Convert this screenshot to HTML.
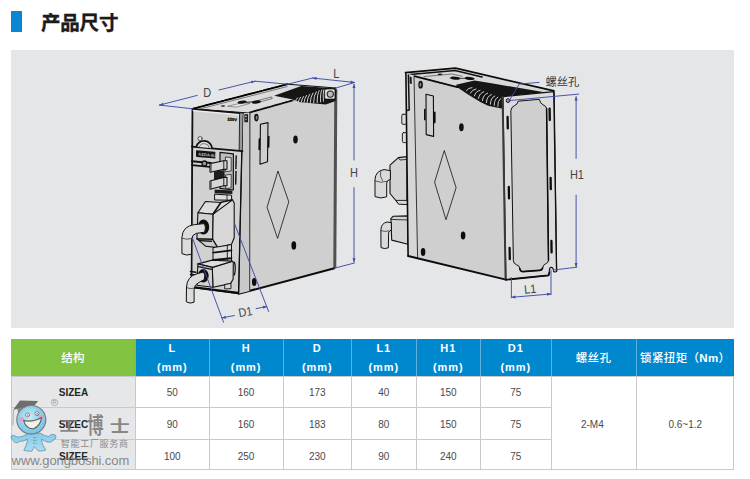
<!DOCTYPE html>
<html lang="zh-CN">
<head>
<meta charset="utf-8">
<title>产品尺寸</title>
<style>
html,body{margin:0;padding:0;background:#fff;}
body{width:750px;height:479px;position:relative;overflow:hidden;font-family:"Liberation Sans","Noto Sans CJK SC",sans-serif;}
.bar{position:absolute;left:11px;top:11px;width:10.5px;height:21.4px;background:#0a86d1;}
h1{position:absolute;left:41px;top:10px;-webkit-text-stroke:.35px #1d1a1a;margin:0;font-size:19.5px;line-height:26px;font-weight:bold;color:#1d1a1a;letter-spacing:-0.2px;white-space:nowrap;}
.panel{position:absolute;left:11px;top:50px;width:723px;height:278px;background:#e5e6e8;}
#art{position:absolute;left:0;top:0;width:750px;height:479px;}
.tbl{position:absolute;left:11px;top:338.6px;width:723px;height:131.6px;}
.c{position:absolute;box-sizing:border-box;display:flex;align-items:center;justify-content:center;text-align:center;white-space:nowrap;}
.h{background:#0088cf;color:#fff;font-weight:bold;font-size:11px;letter-spacing:.9px;line-height:19.2px;top:0;height:37px;padding-top:2.2px;border-left:1px solid #5fb0de;}
.h.g{background:#82c341;border-left:none;}
.h.cj{font-size:11.5px;letter-spacing:.35px;font-weight:500;padding-top:3.2px;}
.d{background:#fff;color:#4a4a4a;font-size:10px;padding-top:2px;border-left:1px solid #c9c9c9;border-top:1px solid #c9c9c9;}
.s{background:#e6e7e8;color:#262626;font-weight:bold;font-size:10px;padding-top:2px;border-top:1px solid #c9c9c9;border-left:1px solid #c9c9c9;}
.frame{position:absolute;left:0;top:37px;width:723px;height:94.6px;box-sizing:border-box;border:1px solid #c9c9c9;border-top:none;pointer-events:none;}
</style>
</head>
<body>
<div class="bar"></div>
<h1>产品尺寸</h1>
<div class="panel"></div>

<div class="tbl">
  <div class="c h g cj" style="left:0px;width:124.0px;">结构</div>
  <div class="c h" style="left:124px;width:73.6px;">L<br>(mm)</div>
  <div class="c h" style="left:197.6px;width:74.0px;">H<br>(mm)</div>
  <div class="c h" style="left:271.6px;width:68.4px;">D<br>(mm)</div>
  <div class="c h" style="left:340px;width:64.6px;">L1<br>(mm)</div>
  <div class="c h" style="left:404.6px;width:64.4px;">H1<br>(mm)</div>
  <div class="c h" style="left:469px;width:70.5px;">D1<br>(mm)</div>
  <div class="c h cj" style="left:539.5px;width:85.1px;">螺丝孔</div>
  <div class="c h cj" style="left:624.6px;width:98.4px;">锁紧扭矩（<b>Nm</b>）</div>
  <div class="c s" style="left:0px;top:37px;width:124.0px;height:31.4px;">SIZEA</div>
  <div class="c d" style="left:124px;top:37px;width:73.6px;height:31.4px;">50</div>
  <div class="c d" style="left:197.6px;top:37px;width:74.0px;height:31.4px;">160</div>
  <div class="c d" style="left:271.6px;top:37px;width:68.4px;height:31.4px;">173</div>
  <div class="c d" style="left:340px;top:37px;width:64.6px;height:31.4px;">40</div>
  <div class="c d" style="left:404.6px;top:37px;width:64.4px;height:31.4px;">150</div>
  <div class="c d" style="left:469px;top:37px;width:70.5px;height:31.4px;">75</div>
  <div class="c s" style="left:0px;top:68.4px;width:124.0px;height:32.0px;">SIZEC</div>
  <div class="c d" style="left:124px;top:68.4px;width:73.6px;height:32.0px;">90</div>
  <div class="c d" style="left:197.6px;top:68.4px;width:74.0px;height:32.0px;">160</div>
  <div class="c d" style="left:271.6px;top:68.4px;width:68.4px;height:32.0px;">183</div>
  <div class="c d" style="left:340px;top:68.4px;width:64.6px;height:32.0px;">80</div>
  <div class="c d" style="left:404.6px;top:68.4px;width:64.4px;height:32.0px;">150</div>
  <div class="c d" style="left:469px;top:68.4px;width:70.5px;height:32.0px;">75</div>
  <div class="c s" style="left:0px;top:100.4px;width:124.0px;height:31.2px;">SIZEE</div>
  <div class="c d" style="left:124px;top:100.4px;width:73.6px;height:31.2px;">100</div>
  <div class="c d" style="left:197.6px;top:100.4px;width:74.0px;height:31.2px;">250</div>
  <div class="c d" style="left:271.6px;top:100.4px;width:68.4px;height:31.2px;">230</div>
  <div class="c d" style="left:340px;top:100.4px;width:64.6px;height:31.2px;">90</div>
  <div class="c d" style="left:404.6px;top:100.4px;width:64.4px;height:31.2px;">240</div>
  <div class="c d" style="left:469px;top:100.4px;width:70.5px;height:31.2px;">75</div>
  <div class="c d" style="left:539.5px;top:37px;width:85.1px;height:94.6px;padding-right:2.4px;">2-M4</div>
  <div class="c d" style="left:624.6px;top:37px;width:98.4px;height:94.6px;">0.6~1.2</div>
  <div class="frame"></div>
</div>

<svg id="art" viewBox="0 0 750 479" width="750" height="479">
<!--ART-->
<g id="dev1" stroke-linejoin="round" stroke-linecap="round">
  <!-- top face -->
  <polygon points="192.6,108.8 249,113 336,88 287.6,84.2" fill="#dcdcdc" stroke="#111" stroke-width="1"/>
  <polygon points="228,106.2 242,102.8 250,103.4 237,107" fill="#e6e6e6" stroke="#444" stroke-width=".5"/><polygon points="255,101.4 271.6,96.9 272.2,98.5 256,103" fill="#f2f2f2" stroke="#222" stroke-width=".6"/>
  <path d="M192.6,108.8 L287.6,84.2" stroke="#000" stroke-width="1.8" stroke-dasharray="1.6,.5" fill="none"/>
  <path d="M199,109.2 L287,86.6" stroke="#333" stroke-width=".6" fill="none"/>
  <ellipse cx="242" cy="102.2" rx="4.5" ry="1.5" fill="#111" transform="rotate(-8 242 102.2)"/>
  <ellipse cx="256.4" cy="102" rx="4.5" ry="1.5" fill="#111" transform="rotate(-8 256.4 102)"/><path d="M242,102.4 L256,101.8" stroke="#111" stroke-width=".9" fill="none"/>
  <ellipse cx="223" cy="106" rx="2.2" ry=".8" fill="#222"/>
  <!-- side face -->
  <polygon points="249.4,113 336,88.6 334.6,268.2 249.6,291" fill="#cfcfcf"/>
  <path d="M250,112.4 L292,100.6" stroke="#111" stroke-width="1.8" stroke-dasharray="1.2,.5" fill="none"/>
  <path d="M335.8,89.4 L334.8,267.8" stroke="#505050" stroke-width="3" fill="none" stroke-linecap="butt"/>
  <path d="M238.6,293.8 L334.4,268.2" stroke="#0c0c0c" stroke-width="2" fill="none"/>
  <path d="M249.8,113 L249.6,290.6" stroke="#333" stroke-width=".9" fill="none"/>
  <!-- fins -->
  <polygon points="274.1,95.7 301.3,86.1 336.5,88.6 335.6,101.1 325.8,104.5 300.2,102.3 291.7,99.2" fill="#161616"/>
  <g stroke="#cfcfcf" stroke-width="1" fill="none">
    <path d="M295.6,101.2 Q296.2,99 297.6,97.8"/>
    <path d="M298.4,101.8 Q299,99 300.6,97.2"/>
    <path d="M301.2,102.2 Q301.8,98.6 303.6,96.4"/>
    <path d="M304,102.4 Q304.6,98 306.6,95.4"/>
    <path d="M307,102.6 Q307.6,97.2 309.8,94.2"/>
    <path d="M310.2,102.8 Q310.6,96.4 313,93"/>
    <path d="M313.6,102.8 Q313.8,95.4 316.2,91.8"/>
    <path d="M317.2,102.6 Q317,94.4 319.2,90.6"/>
    <path d="M320.6,102 Q320,93.6 321.8,90"/>
    <path d="M323.4,101.2 Q322.6,94 323.8,89.8"/>
  </g>
  <rect x="324.7" y="89" width="10.2" height="10" rx="1.6" fill="#e2e2e2" stroke="#111" stroke-width=".6"/>
  <circle cx="330.3" cy="94.1" r="3.1" fill="#bdbdbd" stroke="#222" stroke-width="1.1"/>
  <!-- bezel side strip -->
  <polygon points="242.7,113.1 249.4,113 249.5,291 238.6,293.8" fill="#c9c9c9"/>
  <path d="M249.8,113 L249.6,290.6" stroke="#444" stroke-width=".9" fill="none"/>
  <!-- side features -->
  <ellipse cx="256.4" cy="117.6" rx="2.2" ry="3.8" fill="#111"/>
  <ellipse cx="256.6" cy="117.8" rx=".9" ry="2" fill="#8a8a8a"/>
  <polygon points="260.4,124.3 268,122.6 267.5,161.7 260,164.2" fill="#cfcfcf" stroke="#0c0c0c" stroke-width="1.1"/>
  <path d="M259.4,139 L259.2,149.5 M268.8,136.5 L268.6,147" stroke="#0c0c0c" stroke-width="1.6" fill="none"/>
  <ellipse cx="295.5" cy="139.4" rx="2.3" ry="4" fill="#111"/>
  <polygon points="278.1,171.4 288.8,201.8 277.6,238.4 267.2,207.7" fill="none" stroke="#111" stroke-width=".8"/>
  <ellipse cx="293.8" cy="245.4" rx="2.4" ry="4.2" fill="#0c0c0c"/>
  <ellipse cx="254.2" cy="281.9" rx="2.3" ry="4" fill="#0c0c0c"/>
  <!-- front face -->
  <polygon points="192.6,108.8 242.7,113.1 238.6,293.8 191.6,287.6" fill="#d1d1d1" stroke="#111" stroke-width="1"/>
  <path d="M192.6,108.8 L191.6,287.6" stroke="#111" stroke-width="1.5" fill="none"/>
  <path d="M242.7,113.1 L238.6,293.8" stroke="#111" stroke-width="1.3" fill="none"/>
  <path d="M193.4,110.6 L242,114.9" stroke="#ececec" stroke-width="1.5" fill="none"/><path d="M192.8,109.2 L243,113.5" stroke="#111" stroke-width="1.3" fill="none"/>
  <!-- bezel inner line -->
  <polygon points="239.6,113.4 242.7,113.3 241.9,150.8 239.2,150.4" fill="#9a9a9a"/><path d="M239.6,113.4 L239.2,150.2" stroke="#1a1a1a" stroke-width=".9" fill="none"/>
  <text x="227.6" y="120.4" font-family="'Liberation Sans',sans-serif" font-size="4" font-weight="bold" fill="#000" stroke="#000" stroke-width=".25" transform="skewY(5)" style="transform-origin:227.6px 120.4px">220V</text>
  <rect x="244.4" y="114.2" width="3.6" height="8" fill="#1c1c1c"/>
  <rect x="245.2" y="115.6" width="1.6" height="1.6" fill="#bbb"/><rect x="245.2" y="118.8" width="1.6" height="1.4" fill="#999"/>
  <!-- cover bottom -->
  <path d="M191.8,146.6 L242.4,151.2" stroke="#111" stroke-width="1.8" fill="none"/>
  <circle cx="200.1" cy="138.6" r="2.1" fill="#e4e4e4" stroke="#222" stroke-width=".7"/>
  <path d="M196.4,146.8 A7.9,7.6 0 0 1 212,148.2" fill="#dedede" stroke="#111" stroke-width="1.8"/>
  <path d="M199.2,146.9 A5.2,4.8 0 0 1 209.3,147.9" fill="none" stroke="#333" stroke-width=".6"/>
  <!-- display -->
  <path d="M196.8,150.2 L214.6,151.8 Q215.4,152 215.4,152.8 L215.4,158.6 L196.8,157 Q196,156.8 196,156 L196,151 Q196,150.2 196.8,150.2 Z" fill="#151515"/>
  <text x="198.2" y="155.6" font-family="'Liberation Sans',sans-serif" font-size="4" font-weight="bold" fill="#c4c4c4" stroke="none" letter-spacing=".1" transform="skewY(5)" style="transform-origin:198.2px 155.6px">ASDA-B3</text>
  <path d="M191.8,161.2 L211,163" stroke="#111" stroke-width="1.9" fill="none"/>
  <path d="M191.8,165.2 L210,166.9" stroke="#111" stroke-width="1.7" fill="none"/>
  <circle cx="204.4" cy="163.4" r="2.4" fill="#9a9a9a" stroke="#161616" stroke-width="1.3"/>
  <!-- connector block -->
  <polygon points="220,152.4 233.4,153.9 233.3,190 220,188.4" fill="#bdbdbd" stroke="#111" stroke-width="1.2"/>
  <polygon points="225.8,157 231.2,157.5 231.2,171 225.8,171.6" fill="#dcdcdc" stroke="#222" stroke-width=".8"/>
  <polygon points="225.8,175 231.2,174.4 231.2,188 225.8,188.4" fill="#dcdcdc" stroke="#222" stroke-width=".8"/>
  <polygon points="214,171.6 224.6,170.2 224.6,177.4 214,180.6" fill="#1e1e1e"/>
  <polygon points="210,163.6 223.8,160.8 227,160.8 227,169.2 223.8,169.4 210,172.2" fill="#d6d6d6" stroke="#111" stroke-width="1.1"/>
  <path d="M223.8,160.8 L223.8,169.4" stroke="#111" stroke-width=".9" fill="none"/>
  <path d="M211,164 L211,172" stroke="#555" stroke-width="1.4" fill="none"/>
  <polygon points="210,181 223.8,177.4 227,177.4 227,185.6 223.8,185.8 210,189.2" fill="#d6d6d6" stroke="#111" stroke-width="1.1"/>
  <path d="M223.8,177.4 L223.8,185.8" stroke="#111" stroke-width=".9" fill="none"/>
  <path d="M211,181.4 L211,189" stroke="#555" stroke-width="1.4" fill="none"/>
  <!-- tiny side text -->
  <path d="M236.2,156 L235.9,168.5 M236,171.5 L235.7,184" stroke="#111" stroke-width="1.5" stroke-dasharray=".9,.8" fill="none"/>
  <!-- neck -->
  <polygon points="214.6,189.4 232.4,190.6 232.4,194 214.6,193.2" fill="#1c1c1c"/>
  <polygon points="215,194.2 231.6,195.2 231.6,200.2 215,200" fill="#dedede" stroke="#111" stroke-width="1"/>
  <path d="M227,195 L227,200" stroke="#111" stroke-width=".8" fill="none"/>
  <!-- hex plug: side face -->
  <polygon points="220.9,202.4 232.6,199.9 234.2,203 234.2,237.8 231.5,244.2 217.7,247.6 212.6,239.4 212.9,214.3" fill="#d8d8d8" stroke="#111" stroke-width="1.1"/>
  <!-- top chamfer -->
  <polygon points="205.4,201.5 220.9,202.5 232.6,199.9 212.9,214.3 197.9,212.7" fill="#dddddd" stroke="#111" stroke-width="1.1"/>
  <path d="M220.9,202.5 L212.9,214.3" stroke="#111" stroke-width="1.6" fill="none"/>
  <!-- front face -->
  <polygon points="197.9,212.7 212.9,214.3 212.6,239.4 196.9,238.9" fill="#d2d2d2" stroke="#111" stroke-width="1.1"/>
  <!-- bottom chamfer -->
  <polygon points="196.9,238.9 212.6,239.4 217.7,247.6 205.9,246.3" fill="#cdcdcd" stroke="#111" stroke-width="1.1"/>
  <path d="M199.6,240.6 L211.4,241.2" stroke="#111" stroke-width="1.4" fill="none"/>
  <!-- cable 1 -->
  <ellipse cx="203.5" cy="227" rx="5.7" ry="7.4" fill="#0e0e0e"/>
  <path d="M204.6,223.6 L194.5,224.6 Q182.6,226 181.9,237.4 L181.9,253.6 Q186.6,256.2 191.5,254.2 L191.6,239.4 Q192,234.6 196.2,233.4 L204.6,232.2 Q206.4,228 204.6,223.6 Z" fill="#dcdcdc" stroke="#111" stroke-width="1"/>
  <path d="M182.1,238.2 Q186.8,240.2 191.5,238.6" stroke="#222" stroke-width=".7" fill="none"/>
  <!-- link between plugs -->
  <polygon points="213.4,247.6 231.5,244.6 231.5,261.4 213.4,260.6" fill="#dadada" stroke="#111" stroke-width="1"/>
  <path d="M213.4,252.6 L231.4,250.4" stroke="#111" stroke-width="1.9" fill="none"/>
  <path d="M213.4,260 L231.4,258.2" stroke="#111" stroke-width="1.9" fill="none"/>
  <path d="M227.3,245.4 L227.3,260" stroke="#111" stroke-width=".9" fill="none"/>
  <!-- lower plug -->
  <polygon points="212.3,267.4 232.6,261.2 233.3,263 233.1,279.3 230.5,283.6 212.9,287.3" fill="#d8d8d8" stroke="#111" stroke-width="1.1"/>
  <polygon points="197.9,263.9 212.3,260.1 232.6,261.2 212.3,267.4" fill="#dedede" stroke="#111" stroke-width="1.1"/>
  <polygon points="197.9,263.9 212.3,267.4 212.9,287.3 196.9,285.2" fill="#d2d2d2" stroke="#111" stroke-width="1.1"/>
  <path d="M198.4,266.6 L211.6,269.4" stroke="#111" stroke-width="1.2" fill="none"/>
  <path d="M234.4,262 q1.8,6 0,13" stroke="#111" stroke-width="1.2" fill="none"/>
  <polygon points="225.1,284.4 231,283.4 231,288.6 225.1,289" fill="#d6d6d6" stroke="#111" stroke-width=".9"/>
  <!-- bottom ledge -->
  <path d="M194.2,287.3 L237.9,292.9" stroke="#0c0c0c" stroke-width="2.1" fill="none"/>
  <path d="M190.4,271.6 L196,272.2 M190.4,274.4 L196,275" stroke="#111" stroke-width="1.5" fill="none"/>
  <!-- cable 2 -->
  <ellipse cx="203.3" cy="275.8" rx="5.4" ry="6.8" fill="#0e0e0e"/>
  <path d="M203.6,272 L197,273.8 Q187,276.4 186.5,287 L186.3,301.8 Q190.2,304.2 194.1,302.2 L194.1,289.4 Q194.4,284.6 198.4,282.8 L204.2,279.6 Q205.8,275.6 203.6,272 Z" fill="#dcdcdc" stroke="#111" stroke-width="1"/>
  <path d="M186.5,287.6 Q190.3,289.6 194.1,288.2" stroke="#222" stroke-width=".7" fill="none"/>
</g>

<g id="dev2" stroke-linejoin="round" stroke-linecap="round">
  <!-- left connectors (behind) -->
  <rect x="401.8" y="114.3" width="5" height="10" rx="1.2" fill="#dedede" stroke="#111" stroke-width=".9"/>
  <rect x="402.4" y="132.6" width="4.6" height="10" rx="1.2" fill="#dedede" stroke="#111" stroke-width=".9"/>
  <!-- hex connector -->
  <polygon points="407,156.6 398.4,157.6 390,165.1 390,193.5 398.4,203.5 407,204.4" fill="#d3d3d3" stroke="#111" stroke-width="1.1"/>
  <path d="M398.4,157.6 L400,160 L407,159.4" stroke="#111" stroke-width=".8" fill="none"/>
  <!-- cable elbow 1 -->
  <path d="M390,170.6 L384,169.6 Q375.4,171 375,179.6 L375,196.6 Q380.8,199.2 386.7,196.8 L386.7,183 Q386.9,180 390,179.4 Z" fill="#dadada" stroke="#111" stroke-width="1"/>
  <path d="M375.2,181 Q381,183.4 386.7,181.4 M380.6,171.6 Q379.4,176 382.4,180.4" stroke="#222" stroke-width=".7" fill="none"/>
  <!-- lower connector -->
  <polygon points="408,215.9 393,216.3 390.9,218.6 391.7,240.1 408,244.3" fill="#d3d3d3" stroke="#111" stroke-width="1.1"/>
  <path d="M391.2,219.4 L408,220" stroke="#111" stroke-width=".8" fill="none"/>
  <polygon points="408,200.4 396,200.4 398.6,204.2 408,204.6" fill="#d8d8d8" stroke="#111" stroke-width=".9"/>
  <!-- cable elbow 2 -->
  <path d="M391,222.6 L387,222 Q381.2,223.4 380.9,229.6 L381,247.6 Q384.6,249.4 388.4,247.8 L388.6,233 Q388.8,230.6 391,230.2 Z" fill="#dadada" stroke="#111" stroke-width="1"/>
  <path d="M381,230.6 Q384.8,232.2 388.6,231" stroke="#222" stroke-width=".7" fill="none"/>
  <!-- top face -->
  <polygon points="405.5,72.7 455.5,68.2 554,90.9 503.3,96.5 414.9,76.4" fill="#d8d8d8"/>
  <path d="M405.5,72.7 L455.5,68.2 L554,90.9" stroke="#0c0c0c" stroke-width="1.7" fill="none"/>
  <path d="M410,74.4 L455,70.4 L482,77" stroke="#111" stroke-width="1.5" fill="none"/>
  <path d="M424,76.6 L452,74 L462,76.2" stroke="#333" stroke-width=".6" fill="none"/>
  <ellipse cx="455.4" cy="78.2" rx="4.8" ry="1.5" fill="#0c0c0c" transform="rotate(6 455.4 78.2)"/>
  <ellipse cx="469.6" cy="78.4" rx="4.8" ry="1.5" fill="#0c0c0c" transform="rotate(6 469.6 78.4)"/>
  <path d="M450,78 L474,78.6" stroke="#111" stroke-width=".8" fill="none"/>
  <ellipse cx="440" cy="74.4" rx="2.4" ry=".8" fill="#222"/>
  <!-- side face -->
  <polygon points="413.8,75.6 502.6,99.4 505.9,279.7 417.6,258.2" fill="#cfcfcf"/>
  <!-- vent dark -->
  <polygon points="456,84.8 474.5,80.5 490,83 546,92.6 503.3,96.6 502.8,108.8 488,105.8 479.9,101.7 468,94.6 457.6,87.4" fill="#151515"/>
  <g stroke="#cdcdcd" stroke-width="1" fill="none">
    <path d="M466.4,90.6 Q468.4,87.6 472,87.6"/>
    <path d="M470.4,93.2 Q472,89.4 476,89"/>
    <path d="M474.4,95.8 Q475.8,91 480,90.4"/>
    <path d="M478.4,98.4 Q479.6,92.8 483.8,91.8"/>
    <path d="M482.4,100.6 Q483.2,94.4 487.6,93.2"/>
    <path d="M486.4,102.6 Q486.8,96 491.4,94.6"/>
    <path d="M490.4,104.2 Q490.6,97.6 494.8,96"/>
    <path d="M494.2,105.4 Q494.2,99 497.8,97.2"/>
    <path d="M497.8,106.4 Q497.6,100.6 500.4,98.6"/>
  </g>
  <path d="M414.6,76.2 L457.6,87.2" stroke="#0c0c0c" stroke-width="1.8" stroke-dasharray="1.2,.5" fill="none"/>
  <!-- bezel strip -->
  <polygon points="405.9,73 413.8,75.6 417.6,258.2 408.1,256" fill="#d6d6d6"/>
  <path d="M405.9,73 L408.1,256" stroke="#0c0c0c" stroke-width="1.6" fill="none"/>
  <path d="M414,76 L417.6,258.2" stroke="#222" stroke-width=".9" fill="none"/>
  <path d="M408.4,75 L409.2,110 L407,110.4" stroke="#111" stroke-width="1.5" fill="none"/>
  <path d="M409.6,76.4 L411.6,77 L411.8,84 L409.8,83.4 Z" fill="#161616"/>
  <!-- bottom edge -->
  <path d="M408.1,256 L505.9,279.7" stroke="#0c0c0c" stroke-width="1.9" fill="none"/>
  <!-- side features -->
  <ellipse cx="420.6" cy="84.7" rx="2.3" ry="3.9" fill="#111"/>
  <ellipse cx="420.4" cy="84.8" rx=".9" ry="2" fill="#8a8a8a"/>
  <polygon points="426,94.3 433.4,96 433.6,136.4 426.2,134.6" fill="#cfcfcf" stroke="#0c0c0c" stroke-width="1.1"/>
  <path d="M424.8,109.6 L424.8,119.6 M434.8,112.4 L434.8,122.6" stroke="#0c0c0c" stroke-width="1.6" fill="none"/>
  <ellipse cx="461.4" cy="127.3" rx="2.3" ry="4" fill="#111"/>
  <polygon points="444.4,150.9 456.1,187.7 446,219.7 434.7,182.6" fill="none" stroke="#111" stroke-width=".8"/>
  <ellipse cx="463.1" cy="235.4" rx="2.3" ry="4" fill="#0c0c0c"/>
  <ellipse cx="423.1" cy="252.1" rx="2.3" ry="4" fill="#0c0c0c"/>
  <!-- rear face -->
  <path d="M503,96.6 L554,91.6 L554.2,93 L556.6,271.4 Q555.4,272.6 553.6,271.6 Q553.4,267.2 551,267.4 Q549,267.6 549.4,272.4 L548.5,275.4 L505.9,279.7 Z" fill="#dcdcdc" stroke="#111" stroke-width="1.1"/>
  <path d="M502.6,97 L505.6,279.4" stroke="#3a3a3a" stroke-width="2" fill="none"/>
  <path d="M553.8,92.4 L556.6,271" stroke="#111" stroke-width="1.3" fill="none"/>
  <!-- inner panel -->
  <path d="M510.9,110.4 Q511.4,106.6 514.6,105.6 Q517.6,104.4 518.2,101.2 L539.3,99.3 Q540.2,103.6 543,104.8 Q546.4,106 546.6,108.6 L548.5,260.2 Q548.2,263 545.6,263.8 Q543,264.8 542.6,268 Q542,270.4 539.4,270.4 L522.6,271.6 Q520.2,271.4 519.8,268.6 Q519.6,265.6 516.6,264.8 Q513.6,263.8 513.4,261 Z" fill="#cfcfcf" stroke="#111" stroke-width="1"/>
  <path d="M546.6,108.6 L548.5,260.2" stroke="#0c0c0c" stroke-width="1.5" fill="none"/>
  <g stroke="#0c0c0c" stroke-width="2.3" fill="none">
    <path d="M507.6,117 L507.8,128.4"/><path d="M549.6,108.6 L549.8,120"/>
    <path d="M508.8,187 L509,198.4"/><path d="M550.6,177.8 L550.8,189.2"/>
    <path d="M509.6,247.8 L509.8,259.2"/><path d="M551.4,241 L551.6,252.4"/>
  </g>
  <path d="M505.9,279.7 L548.5,275.4 L549.4,272.4" stroke="#0c0c0c" stroke-width="1.8" fill="none"/>
  <path d="M519.8,268.6 Q520.2,271.4 522.6,271.6 L539.4,270.4 Q542,270.4 542.6,268" stroke="#0c0c0c" stroke-width="1.6" fill="none"/>
  <circle cx="508.1" cy="100.6" r="1.9" fill="#aaa" stroke="#111" stroke-width="1"/>
</g>

<defs>
  <marker id="ar" viewBox="0 0 10 10" refX="9.5" refY="5" markerWidth="5.2" markerHeight="4" orient="auto-start-reverse" markerUnits="userSpaceOnUse">
    <path d="M0,1.2 L10,5 L0,8.8 Z" fill="#3f4ca6"/>
  </marker>
</defs>
<g id="dims" fill="none" stroke="#3f4ca6" stroke-width=".95" stroke-linecap="round">
  <!-- D -->
  <path d="M159.5,105.1 L192.6,108.8 M255,81.2 L287.6,84.2"/>
  <path d="M197.3,95.4 L159.5,105.1" marker-end="url(#ar)"/>
  <path d="M219,90 L255,81.2" marker-end="url(#ar)"/>
  <!-- L -->
  <path d="M287.6,84.2 L312.7,78 M354.4,82.5 L336,88"/>
  <path d="M312.7,78 L354.4,82.5" marker-start="url(#ar)" marker-end="url(#ar)"/>
  <!-- H -->
  <path d="M354,160 L354,84.2" marker-end="url(#ar)"/>
  <path d="M354,187.6 L354,262.1" marker-end="url(#ar)"/>
  <path d="M334.4,268.2 L354.4,263"/>
  <!-- D1 -->
  <path d="M192.6,238.4 L223.5,322.2 M234.4,223.4 L268.6,311.5"/>
  <path d="M234.4,315.5 L222,317.9" marker-end="url(#ar)"/>
  <path d="M256.1,308.6 L266.8,306.6" marker-end="url(#ar)"/>
  <!-- screw hole leader -->
  <path d="M539.1,82.4 L519.3,84 L509,101"/>
  <!-- H1 -->
  <path d="M509,100.6 L578.6,94.1 M553.5,270 L577,267.2"/>
  <path d="M576.1,158.4 L576.1,96.6" marker-end="url(#ar)"/>
  <path d="M576.1,195.2 L576.1,266.8" marker-end="url(#ar)"/>
  <!-- L1 -->
  <path d="M511.4,277.6 L511.4,297.8 M551,270 L551,294.6"/>
  <path d="M511.6,297.3 L550.8,294" marker-start="url(#ar)" marker-end="url(#ar)"/>
</g>
<g id="dimtxt" font-family="'Liberation Sans','Noto Sans CJK SC',sans-serif" fill="#444" text-anchor="middle" font-size="12.2">
  <text transform="translate(207.2,96.7) scale(.9,1)">D</text>
  <text transform="translate(336.2,77.7) scale(.9,1)">L</text>
  <text transform="translate(354,176.6) scale(.9,1)">H</text>
  <text transform="rotate(-10 245.3 311.8) translate(245.3,316.2) scale(.9,1)">D1</text>
  <text x="562.4" y="86" font-size="11.3" fill="#3c3c3c">螺丝孔</text>
  <text transform="translate(576.9,179) scale(.9,1)">H1</text>
  <text transform="rotate(-5 530.1 288.8) translate(530.1,293.2) scale(.9,1)">L1</text>
</g>

<defs>
  <radialGradient id="hd" cx="45%" cy="40%" r="65%">
    <stop offset="0" stop-color="#c6ebf9"/><stop offset=".55" stop-color="#86d0ef"/><stop offset="1" stop-color="#62bbe4"/>
  </radialGradient>
  <linearGradient id="bd" x1="0" y1="0" x2="0" y2="1">
    <stop offset="0" stop-color="#74c8ec"/><stop offset="1" stop-color="#a6ddf4"/>
  </linearGradient>
</defs>
<g id="wm" opacity=".88">
  <!-- body -->
  <path d="M28.2,433.4 L40.4,433.2 Q44.6,436 48.8,436.6 Q50.2,434.4 52.2,434.4 Q55.6,434 56,436.4 Q56.2,439 53,440.6 Q51,442.6 48.2,442.2 Q44.6,441.4 41.6,439.2 Q41.6,442.6 43,445.4 L45.8,450 Q42.4,451.4 38.2,450.9 L34.4,446.6 L31.9,451.1 Q27.4,451.4 23.8,450.2 L26,445.6 Q27.4,442.4 27.4,439.2 Q23,441.6 19.4,441.4 L16.9,443 Q13.6,442 12.4,439.8 Q10.4,437.6 11.2,436 Q12.6,434.8 14.6,435.8 Q16.4,436.8 18.8,437.2 Q23.6,436.4 28.2,433.4 Z" fill="url(#bd)" stroke="#5f8cab" stroke-width=".9" stroke-linejoin="round"/>
  <path d="M33.2,437.6 L34.8,437.6 M35.6,437.6 L36.6,437.6 M33.2,440.4 L34.8,440.4 M35.6,440.4 L36.6,440.4 M33.2,443.2 L34.8,443.2 M35.6,443.2 L36.6,443.2" stroke="#6d7f8a" stroke-width="1" fill="none"/>
  <!-- cap -->
  <polygon points="20,400.4 38.2,401 34.4,405.4 13.2,409.8" fill="#5e5e5e"/>
  <path d="M13.5,409.8 L12.8,425.4" stroke="#8d8d8d" stroke-width=".8" fill="none"/>
  <path d="M17,408.4 L18.4,413 L34,408.6 L34,405.6 Z" fill="#7c7c7c"/>
  <!-- head -->
  <ellipse cx="31.3" cy="419.8" rx="14.5" ry="14.3" fill="url(#hd)" stroke="#6f6a68" stroke-width="1.1"/>
  <ellipse cx="21.9" cy="419.2" rx="2.5" ry="1.9" fill="#f08cb8"/>
  <ellipse cx="41.3" cy="416.8" rx="2.5" ry="1.9" fill="#f08cb8"/>
  <circle cx="27.6" cy="414.9" r="2" fill="#fff" stroke="#5a5a5a" stroke-width=".8"/>
  <circle cx="37" cy="413.6" r="2" fill="#fff" stroke="#5a5a5a" stroke-width=".8"/>
  <circle cx="27.8" cy="415.1" r=".7" fill="#444"/>
  <circle cx="37.2" cy="413.8" r=".7" fill="#444"/>
  <path d="M23.6,420.6 Q33,422.4 41.6,417.4 Q40.4,426 33.6,428.8 Q26.4,429.4 23.6,420.6 Z" fill="#f6f4e8" stroke="#555" stroke-width="1.2" stroke-linejoin="round"/>
  <!-- (R) -->
  <circle cx="54.5" cy="402.4" r="3.2" fill="none" stroke="#8a8a8a" stroke-width=".6"/>
  <text x="54.5" y="404.1" font-family="'Liberation Sans',sans-serif" font-size="4.6" fill="#8a8a8a" text-anchor="middle">R</text>
  <!-- brand -->
  <g font-family="'Liberation Sans','Noto Sans CJK SC',sans-serif" font-weight="bold" fill="#7a7a7a" text-anchor="middle">
    <text transform="translate(69.1,431.2) scale(.98,.74)" font-size="19.5">工</text>
    <text transform="translate(95.5,433) scale(.78,1.02)" font-size="21">博</text>
    <text transform="translate(119.8,431.8) scale(1,.8)" font-size="20">士</text>
  </g>
  <text x="60.8" y="447" font-family="'Liberation Sans','Noto Sans CJK SC',sans-serif" font-size="9" letter-spacing=".7" fill="#808080">智能工厂服务商</text>
  <text x="11.6" y="464.6" font-family="'Liberation Sans',sans-serif" font-size="13" letter-spacing="-.1" fill="#7b7b7b">www.gongboshi.com</text>
</g>

<!--/ART-->
</svg>
</body>
</html>
